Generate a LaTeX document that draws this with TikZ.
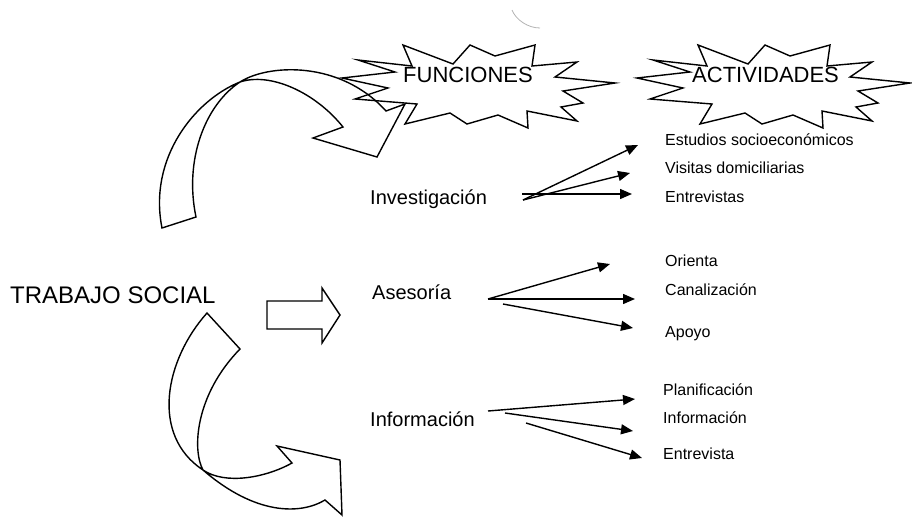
\documentclass[tikz,border=0pt]{standalone}
\usepackage{fontspec}
\setmainfont{Liberation Sans}
\usetikzlibrary{arrows.meta}
\begin{document}
\begin{tikzpicture}[x=1pt,y=-1pt,
  lbl/.style={anchor=base west, inner sep=0pt, font=\fontsize{16}{18}\selectfont},
  fn/.style={anchor=base west, inner sep=0pt, font=\fontsize{20}{24}\selectfont},
  big/.style={anchor=base west, inner sep=0pt, font=\fontsize{22}{26}\selectfont},
  conn/.style={line width=1.4pt, -{Triangle[length=12pt,width=10pt]}},
  blockarrow/.style={line width=1.4pt, line join=miter},
  burst/.style={line width=1.4pt, line join=miter}]
\useasboundingbox (0,0) rectangle (912,517);

% stray mark
\draw[gray!60, line width=0.8pt] (512,10) .. controls (516,20) and (528,28) .. (540,28);

% bursts
\foreach \sx in {-295,0}{
\begin{scope}[xshift=\sx pt]
\draw[burst] (698,45) -- (748,64) -- (765,45) -- (790,56) -- (830,45) -- (827,66) -- (872,62) -- (850,77) -- (910,83) -- (858,91) -- (878,103) -- (856,107) -- (872,121) -- (822,111) -- (823,128) -- (793,115) -- (762,124) -- (745,113) -- (700,124) -- (712,104) -- (650,99) -- (683,88) -- (637,78) -- (690,72) -- (653,60) -- (707,66) -- cycle;
\end{scope}}
\node[big] (fun) at (403,82) {FUNCIONES};
\node[big] (act) at (692,82) {ACTIVIDADES};

% main label
\node[anchor=base west, inner sep=0pt, font=\fontsize{24}{28}\selectfont] (ts) at (10,303) {TRABAJO SOCIAL};

% functions
\node[fn] (inv) at (370,204) {Investigación};
\node[fn] (ase) at (372,299) {Asesoría};
\node[fn] (inf) at (370,426) {Información};

% activities
\node[lbl] (est) at (665,145) {Estudios socioeconómicos};
\node[lbl] (vis) at (665,173) {Visitas domiciliarias};
\node[lbl] (ent) at (665,202) {Entrevistas};
\node[lbl] (ori) at (665,266) {Orienta};
\node[lbl] (can) at (665,295) {Canalización};
\node[lbl] (apo) at (665,337) {Apoyo};
\node[lbl] (pla) at (663,395) {Planificación};
\node[lbl] (infa) at (663,423) {Información};
\node[lbl] (entr) at (663,459) {Entrevista};

% connector coordinates
\coordinate (i0) at (523,200);
\coordinate (i1) at (522,194);
\coordinate (ie1) at (638,145);
\coordinate (ie2) at (630,173);
\coordinate (ie3) at (632,194);
\coordinate (a0) at (488,299);
\coordinate (a1) at (503,304);
\coordinate (ae1) at (610,264);
\coordinate (ae2) at (635,299);
\coordinate (ae3) at (633,328);
\coordinate (f0) at (488,411);
\coordinate (f1) at (505,413);
\coordinate (f2) at (526,423);
\coordinate (fe1) at (635,399);
\coordinate (fe2) at (633,431);
\coordinate (fe3) at (642,458);

\draw[conn] (i0) -- (ie1);
\draw[conn] (i0) -- (ie2);
\draw[conn] (i1) -- (ie3);
\draw[conn] (a0) -- (ae1);
\draw[conn] (a0) -- (ae2);
\draw[conn] (a1) -- (ae3);
\draw[conn] (f0) -- (fe1);
\draw[conn] (f1) -- (fe2);
\draw[conn] (f2) -- (fe3);

% straight block arrow
\draw[blockarrow] (267,301) -- (322,301) -- (322,288) -- (340,315) -- (322,343) -- (322,329) -- (267,329) -- cycle;

% top curved arrow
\draw[blockarrow] (196,217) .. controls (184,160) and (205,105) .. (240,82)
  .. controls (268,64) and (340,60) .. (386,111) -- (405,104) -- (377,157) -- (313,138) -- (343,127)
  .. controls (315,92) and (270,72) .. (240,82)
  .. controls (195,100) and (148,158) .. (162,228) -- cycle;

% bottom curved arrow
\draw[blockarrow] (207,313) .. controls (165,360) and (150,435) .. (203,470)
  .. controls (225,485) and (265,478) .. (292,463) -- (277,446) -- (340,460) -- (342,515) -- (325,500)
  .. controls (300,515) and (255,515) .. (203,470)
  .. controls (192,450) and (195,395) .. (240,349) -- cycle;
\end{tikzpicture}
\end{document}
